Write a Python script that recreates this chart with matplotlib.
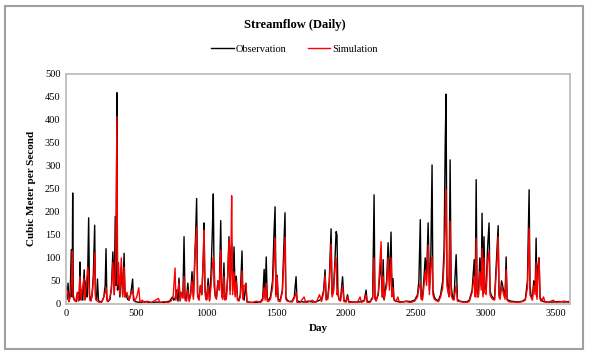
import matplotlib.pyplot as plt
from matplotlib.patches import Rectangle

obs_day = [0, 8, 15, 22, 30, 38, 44, 48, 52, 58, 65, 75, 85, 95, 100, 105, 112, 120, 130, 138,
           145, 152, 162, 168, 175, 185, 195, 205, 210, 218, 225, 232, 240, 255, 270, 280, 286, 292,
           300, 315, 325, 335, 345, 352, 358, 364, 368, 375, 385, 395, 405, 415, 422, 430, 440, 450,
           462, 476, 482, 495, 510, 530, 560, 600, 650, 700, 740, 760, 770, 779, 790, 800, 807, 815,
           825, 835, 843, 850, 860, 870, 880, 890, 900, 910, 920, 933, 940, 950, 960, 970, 980, 986,
           992, 998, 1005, 1015, 1025, 1035, 1045, 1052, 1058, 1065, 1075, 1085, 1095, 1105, 1112,
           1120, 1128, 1135, 1145, 1155, 1164, 1172, 1178, 1183, 1190, 1200, 1208, 1216, 1225, 1235,
           1245, 1257, 1263, 1272, 1285, 1292, 1305, 1330, 1360, 1390, 1405, 1415, 1422, 1430, 1437,
           1445, 1460, 1475, 1485, 1493, 1500, 1508, 1515, 1530, 1545, 1557, 1564, 1570, 1580, 1595,
           1615, 1630, 1643, 1650, 1670, 1700, 1730, 1760, 1790, 1810, 1825, 1840, 1850, 1858, 1870,
           1880, 1893, 1900, 1910, 1920, 1929, 1935, 1942, 1950, 1960, 1975, 1985, 2000, 2010, 2020,
           2050, 2080, 2110, 2130, 2143, 2150, 2170, 2190, 2200, 2206, 2215, 2230, 2240, 2250, 2258,
           2265, 2272, 2280, 2290, 2300, 2310, 2321, 2328, 2335, 2342, 2355, 2370, 2400, 2430, 2460,
           2490, 2510, 2520, 2530, 2536, 2545, 2555, 2565, 2575, 2586, 2595, 2605, 2614, 2620, 2630,
           2640, 2650, 2660, 2675, 2690, 2700, 2708, 2714, 2720, 2728, 2735, 2743, 2750, 2760, 2770,
           2786, 2795, 2810, 2830, 2860, 2880, 2900, 2915, 2922, 2929, 2935, 2945, 2955, 2965, 2971,
           2978, 2985, 2990, 3000, 3010, 3021, 3028, 3035, 3045, 3060, 3075, 3086, 3092, 3100, 3110,
           3125, 3135, 3143, 3150, 3160, 3175, 3200, 3230, 3260, 3280, 3295, 3307, 3313, 3320, 3330,
           3340, 3350, 3357, 3363, 3370, 3378, 3385, 3395, 3410, 3440, 3480, 3520, 3560, 3590]
obs_flow = [40, 10, 45, 5, 20, 118, 15, 241, 20, 10, 8, 5, 25, 8, 91, 10, 30, 8, 74, 10,
            50, 15, 187, 20, 10, 15, 60, 171, 20, 8, 54, 8, 5, 4, 15, 40, 120, 10,
            5, 10, 40, 113, 20, 190, 40, 459, 30, 60, 15, 80, 20, 110, 15, 20, 10, 8,
            20, 54, 8, 5, 4, 3, 5, 3, 4, 3, 6, 15, 8, 12, 30, 6, 56, 8,
            25, 15, 146, 15, 8, 45, 8, 20, 70, 15, 90, 229, 20, 10, 40, 20, 90, 176,
            40, 15, 10, 55, 8, 60, 155, 239, 40, 20, 15, 50, 30, 181, 20,
            15, 89, 10, 15, 60, 146, 30, 120, 130, 30, 124, 20, 60, 10, 8,
            20, 115, 15, 8, 45, 5, 4, 3, 3, 5, 12, 75, 15, 102, 10,
            8, 15, 50, 150, 211, 20, 62, 10, 8, 30, 140, 198, 15, 8, 5,
            6, 15, 59, 6, 5, 4, 6, 4, 5, 8, 10, 30, 74, 10, 15,
            50, 163, 20, 30, 90, 157, 150, 20, 10, 8, 59, 8, 5, 20, 5,
            4, 4, 5, 8, 30, 6, 4, 15, 237, 15, 8, 20, 60, 90, 15,
            96, 10, 30, 50, 133, 40, 156, 20, 55, 10, 6, 5, 4, 6, 5,
            8, 20, 50, 183, 15, 10, 50, 100, 60, 176, 30, 100, 302, 30, 15,
            10, 8, 8, 20, 50, 120, 350, 456, 60, 30, 20, 313, 40, 15, 10,
            107, 10, 6, 5, 4, 8, 30, 96, 20, 270, 25, 20, 100, 40, 197,
            20, 146, 40, 30, 120, 176, 30, 20, 15, 10, 100, 170, 20, 15, 50,
            30, 15, 102, 10, 8, 6, 5, 4, 6, 10, 50, 248, 40, 20, 10,
            50, 30, 143, 15, 80, 100, 15, 8, 5, 4, 4, 5, 4, 5]

# simulated daily streamflow
sim_day = [0, 10, 20, 30, 40, 46, 50, 58, 70, 80, 90, 100, 108, 118, 128, 135, 145, 155, 162, 170,
           180, 190, 200, 205, 212, 222, 235, 250, 265, 280, 286, 295, 310, 325, 335, 345, 355, 364,
           368, 375, 385, 395, 405, 415, 422, 435, 450, 462, 476, 490, 505, 520, 528, 545, 560, 580,
           610, 640, 660, 670, 700, 730, 750, 765, 779, 785, 795, 807, 815, 825, 835, 843, 850, 860,
           870, 880, 890, 900, 910, 920, 933, 940, 950, 960, 970, 980, 986, 992, 998, 1005, 1015,
           1025, 1035, 1045, 1052, 1058, 1065, 1075, 1085, 1095, 1105, 1112, 1120, 1128, 1135, 1145,
           1155, 1164, 1172, 1178, 1183, 1190, 1200, 1208, 1216, 1225, 1235, 1245, 1257, 1263, 1272,
           1285, 1292, 1305, 1330, 1360, 1390, 1405, 1415, 1422, 1430, 1437, 1445, 1460, 1475, 1485,
           1493, 1500, 1508, 1515, 1530, 1545, 1557, 1564, 1570, 1580, 1595, 1615, 1630, 1643, 1650,
           1670, 1700, 1712, 1730, 1760, 1775, 1790, 1810, 1825, 1840, 1850, 1858, 1870, 1880, 1893,
           1900, 1910, 1920, 1929, 1935, 1942, 1950, 1960, 1975, 1985, 2000, 2010, 2020, 2050, 2080,
           2100, 2110, 2130, 2143, 2150, 2170, 2190, 2200, 2206, 2215, 2230, 2240, 2250, 2258, 2265,
           2272, 2280, 2290, 2300, 2310, 2321, 2328, 2335, 2342, 2355, 2370, 2380, 2400, 2430, 2460,
           2490, 2510, 2520, 2530, 2536, 2545, 2555, 2565, 2575, 2586, 2595, 2605, 2614, 2620, 2630,
           2640, 2650, 2660, 2675, 2690, 2700, 2708, 2714, 2720, 2728, 2735, 2743, 2750, 2760, 2770,
           2786, 2795, 2810, 2830, 2860, 2880, 2900, 2915, 2922, 2929, 2935, 2945, 2955, 2965, 2971,
           2978, 2985, 2990, 3000, 3010, 3021, 3028, 3035, 3045, 3060, 3075, 3086, 3092, 3100, 3110,
           3125, 3135, 3143, 3150, 3160, 3175, 3200, 3230, 3260, 3280, 3295, 3307, 3313, 3320, 3330,
           3340, 3350, 3357, 3363, 3370, 3378, 3385, 3395, 3410, 3420, 3440, 3480, 3500, 3520, 3560,
           3590]
sim_flow = [20, 30, 5, 15, 50, 115, 15, 8, 5, 25, 6, 60, 8, 35, 55, 8, 40, 80, 60, 8,
            6, 30, 70, 110, 10, 6, 4, 3, 10, 25, 35, 5, 10, 30, 90, 20, 100, 407,
            40, 90, 20, 100, 15, 80, 15, 25, 8, 20, 30, 5, 15, 35, 4, 8, 3, 6,
            3, 8, 12, 3, 5, 3, 6, 15, 78, 8, 25, 45, 6, 25, 12, 60, 8, 6,
            30, 5, 20, 50, 10, 110, 167, 15, 8, 40, 20, 100, 160, 30, 10, 8, 40,
            6, 35, 80, 100, 89, 15, 10, 50, 30, 117, 15, 10, 60, 8, 10,
            60, 140, 20, 100, 235, 20, 70, 15, 50, 8, 6, 15, 72, 10, 40,
            42, 4, 3, 3, 6, 3, 8, 35, 8, 45, 6, 5, 10, 35, 90,
            143, 15, 60, 6, 5, 25, 100, 145, 10, 6, 5, 4, 12, 25, 3,
            3, 15, 3, 4, 8, 3, 5, 20, 5, 25, 62, 8, 10, 40, 130,
            15, 25, 80, 100, 20, 30, 8, 6, 40, 5, 4, 15, 3, 4, 3,
            15, 3, 6, 20, 3, 3, 12, 100, 10, 6, 25, 80, 135, 15, 60,
            8, 25, 40, 100, 30, 100, 15, 35, 8, 5, 15, 3, 4, 5, 3,
            6, 15, 35, 45, 10, 8, 35, 70, 40, 128, 20, 80, 102, 20, 10,
            8, 6, 5, 15, 35, 90, 180, 248, 40, 25, 15, 180, 20, 10, 8,
            40, 6, 5, 4, 3, 5, 25, 60, 15, 143, 15, 15, 70, 30, 120,
            15, 100, 25, 20, 90, 115, 20, 15, 10, 8, 80, 146, 15, 10, 40,
            20, 10, 75, 8, 5, 4, 4, 3, 5, 8, 35, 165, 20, 15, 8,
            40, 20, 90, 10, 60, 100, 10, 5, 15, 4, 3, 8, 3, 4, 6,
            3]

plt.rcParams['font.family'] = ['Liberation Serif', 'DejaVu Serif']

fig = plt.figure(figsize=(5.89, 3.55), dpi=100)
ax = fig.add_axes([0.112, 0.144, 0.856, 0.648])

ax.plot(obs_day, obs_flow, color='black', lw=1.0, label='Observation')
ax.plot(sim_day, sim_flow, color='red', lw=1.0, label='Simulation')

ax.set_xlim(0, 3600)
ax.set_ylim(0, 500)
ax.set_xticks(range(0, 3501, 500))
ax.set_yticks(range(0, 501, 50))
ax.tick_params(labelsize=7.5, length=0, pad=4)
for s in ax.spines.values():
    s.set_color('#b8b8b8')
    s.set_linewidth(1.2)

ax.set_xlabel('Day', fontsize=8, fontweight='bold', labelpad=4)
ax.set_ylabel('Cubic Meter per Second', fontsize=8, fontweight='bold', labelpad=6)

fig.text(0.5, 0.93, 'Streamflow (Daily)', ha='center', va='center', fontsize=9, fontweight='bold')
fig.legend(loc='center', bbox_to_anchor=(0.5, 0.862), ncol=2, frameon=False, fontsize=7.5,
           handlelength=2.2, columnspacing=2.0, handletextpad=0.2)

# grey frame around the whole chart
fig.patches.append(Rectangle((0.009, 0.017), 0.981, 0.966, transform=fig.transFigure,
                             fill=False, edgecolor='#a0a0a0', lw=1.5))

fig.savefig('out.png', dpi=100)
